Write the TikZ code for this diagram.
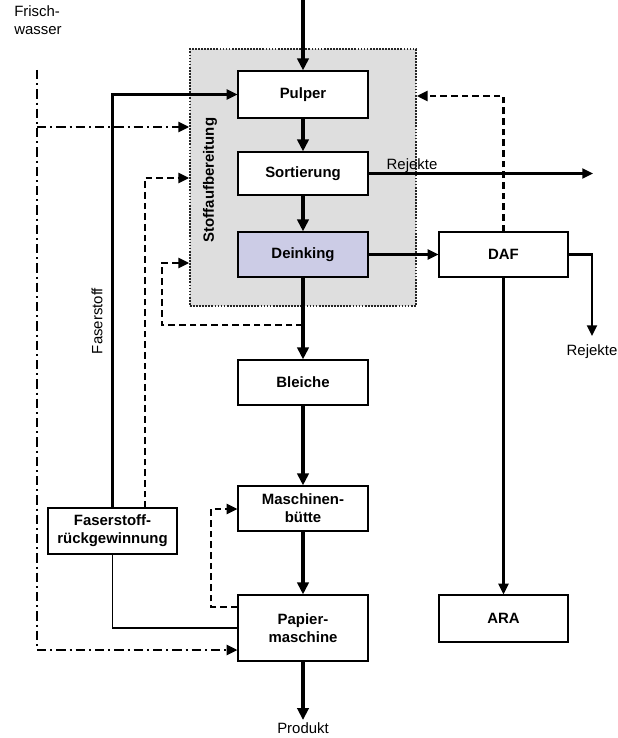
\documentclass[tikz,border=0pt]{standalone}
\usepackage{fontspec}
\setmainfont{Liberation Sans}
\usetikzlibrary{arrows.meta}
\begin{document}
\begin{tikzpicture}[x=0.75pt,y=-0.75pt,
  font=\fontsize{11.2}{13.5}\selectfont,
  box/.style={draw,line width=0.9pt,fill=white,font=\fontsize{11.2}{13.5}\selectfont\bfseries,
    align=center,minimum width=97.5pt,inner sep=0pt},
  main/.style={line width=3pt,-{Triangle[length=9pt,width=8.5pt]}},
  flow/.style={line width=1.6pt,-{Triangle[length=8pt,width=7.5pt]}},
  recyc/.style={flow,dash pattern=on 5pt off 3pt},
  fresh/.style={flow,dash pattern=on 7pt off 3pt on 1.5pt off 3pt},
  thinline/.style={line width=0.8pt}]
\useasboundingbox (0,0) rectangle (617,738);

% stock preparation area
\node[draw=black!85,fill=black!13,densely dotted,line width=1.3pt,minimum width=169.5pt,
  minimum height=192.75pt,inner sep=0pt] (stoff) at (303,177.5) {};
\node[rotate=90,font=\fontsize{11.2}{13.5}\selectfont\bfseries] (stofflbl) at (210,180) {Stoffaufbereitung};

% process boxes
\node[box,minimum height=35.25pt] (pulper) at (303,94.5) {Pulper};
\node[box,minimum height=32.25pt] (sort) at (303,173.5) {Sortierung};
\node[box,minimum height=33.75pt,fill={rgb,255:red,204;green,204;blue,230}] (deink) at (303,254.5) {Deinking};
\node[box,minimum height=33.75pt] (bleiche) at (303,382.5) {Bleiche};
\node[box,minimum height=33.75pt] (mbuette) at (303,508.5) {Maschinen-\\bütte};
\node[box,minimum height=49.5pt] (papier) at (303,628) {Papier-\\maschine};
\node[box,minimum width=96.75pt,minimum height=33.75pt] (daf) at (503.5,254.5) {DAF};
\node[box,minimum width=96.75pt,minimum height=35.25pt] (ara) at (503.5,618.5) {ARA};
\node[box,minimum width=96.75pt,minimum height=34.5pt] (faser) at (112.5,531) {Faserstoff-\\rückgewinnung};

% text labels
\node[align=left,anchor=west,inner sep=0pt] (fwlbl) at (14,20) {Frisch-\\wasser};
\node[rotate=90] (faserlbl) at (97,321) {Faserstoff};
\node (rej1) at (412,166) {Rejekte};
\node (rej2) at (592,352) {Rejekte};
\node (produkt) at (303,728) {Produkt};

% coordinates for free ends and bends
\coordinate (in) at (303,0);
\coordinate (out) at (303,720);
\coordinate (rejout) at (593,173.5);
\coordinate (rejend) at (592,336);
\coordinate (fwtop) at (37,70);
\coordinate (fwbend) at (37,650);
\coordinate (fwsplit) at (37,127);
\coordinate (dloop1) at (303,325);
\coordinate (dloop2) at (162,325);
\coordinate (dloop3) at (162,263);
\coordinate (fd1) at (145,508);
\coordinate (fd2) at (145,178);
\coordinate (mloop1) at (211,607);
\coordinate (mloop2) at (211,509);

% main fibre line
\draw[main] (in) -- (pulper);
\draw[main] (pulper) -- (sort);
\draw[main] (sort) -- (deink);
\draw[main] (deink) -- (bleiche);
\draw[main] (bleiche) -- (mbuette);
\draw[main] (mbuette) -- (papier);
\draw[main] (papier) -- (out);

% rejects and water treatment
\draw[flow] (sort.east) -- (rejout);
\draw[flow] (deink.east) -- (daf.west);
\draw[flow] (daf.east) -| (rejend);
\draw[flow] (daf.south) -- (ara.north);
\draw[recyc] (daf.north) |- (stoff.east |- 0,96);

% fibre recovery
\draw[flow] (faser.north) |- (pulper.west);
\draw[thinline] (faser.south) |- (papier.west);
\draw[recyc] (fd1) -- (fd2) -- (stoff.west |- fd2);

% white water loops
\draw[recyc] (dloop1) -- (dloop2) -- (dloop3) -- (stoff.west |- dloop3);
\draw[recyc] (papier.west |- mloop1) -- (mloop1) -- (mloop2) -- (mbuette.west |- mloop2);

% fresh water
\draw[fresh] (fwtop) -- (fwbend) -- (papier.west |- fwbend);
\draw[fresh] (fwsplit) -- (stoff.west |- fwsplit);
\end{tikzpicture}
\end{document}
